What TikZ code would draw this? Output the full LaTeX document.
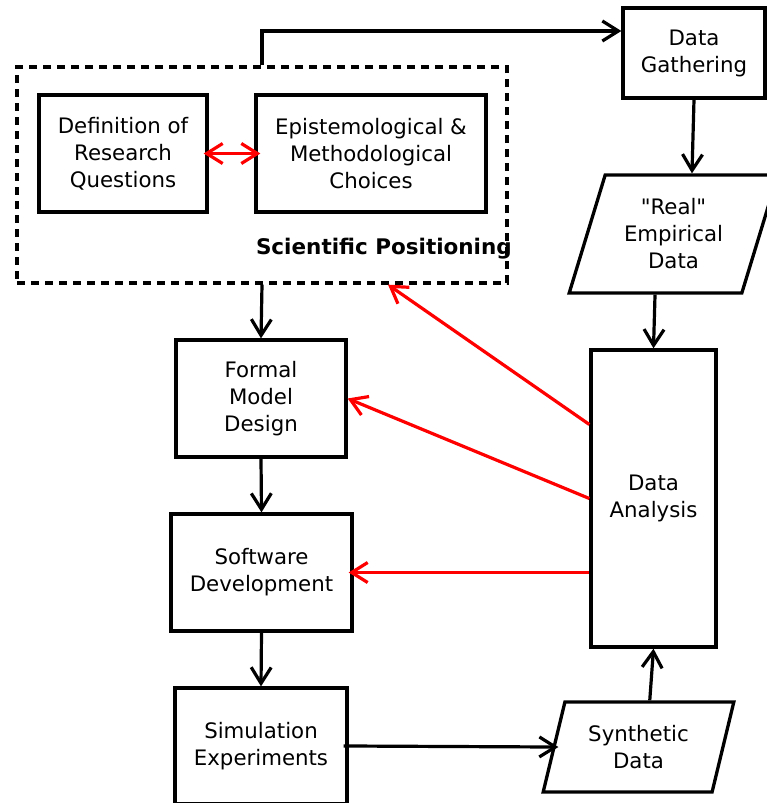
\documentclass[tikz,border=0pt]{standalone}
\usepackage{fontspec}
\setmainfont{DejaVu Sans}
\usetikzlibrary{arrows.meta, calc, shapes.geometric}
\tikzset{
  box/.style={draw, line width=3.3pt, align=center, inner sep=2pt, font=\fontsize{21.3}{27}\selectfont},
  dat/.style={box, trapezium, trapezium left angle=70, trapezium right angle=110, trapezium stretches=true},
  grp/.style={draw, line width=3.3pt, dash pattern=on 8pt off 6pt, minimum width=490pt, minimum height=216pt},
  flw/.style={-{Straight Barb[length=16pt, width=20pt, line width=3.2pt]}, line width=3.2pt},
  fbk/.style={flw, red},
  fbb/.style={{Straight Barb[length=16pt, width=20pt, line width=3.2pt]}-{Straight Barb[length=16pt, width=20pt, line width=3.2pt]}, line width=3.2pt, red},
  glab/.style={font=\fontsize{21.5}{27}\selectfont\bfseries, inner sep=0pt}
}

\begin{document}
\begin{tikzpicture}[x=1pt, y=-1pt]
		\useasboundingbox (0,0) rectangle (767,803);
		\node[grp] (pos) at (262,175) {};
		\node[glab, anchor=east] (posl) at (512,249) {Scientific Positioning};
		\node[box, minimum width=168pt, minimum height=117pt] (def) at (123,153.5) {Definition of\\Research\\Questions};
		\node[box, minimum width=230pt, minimum height=117pt] (epi) at (371,153.5) {Epistemological \&\\Methodological\\Choices};
		\node[box, minimum width=142pt, minimum height=90pt] (dg) at (694,53) {Data\\Gathering};
		\node[dat, minimum width=209pt, minimum height=118pt] (real) at (673.5,234) {\textquotedbl Real\textquotedbl\\Empirical\\Data};
		\node[box, minimum width=125pt, minimum height=297pt] (ana) at (653.5,498.5) {Data\\Analysis};
		\node[box, minimum width=170pt, minimum height=117pt] (fmd) at (261,398.5) {Formal\\Model\\Design};
		\node[box, minimum width=181pt, minimum height=117pt] (sd) at (261.5,572.5) {Software\\Development};
		\node[box, minimum width=172pt, minimum height=116pt] (sim) at (261,746) {Simulation\\Experiments};
		\node[dat, trapezium left angle=72, trapezium right angle=108, minimum width=191pt, minimum height=90pt] (syn) at (638.5,747) {Synthetic\\Data};
		% main flow
		\draw[flw] (pos.north) |- ($(dg.west)+(0,-22)$);
		\draw[flw] (dg.south) -- (real.top side);
		\draw[flw] (real.bottom side) -- (ana.north);
		\draw[flw] (pos.south) -- (fmd.north);
		\draw[flw] (fmd.south) -- (sd.north);
		\draw[flw] (sd.south) -- (sim.north);
		\draw[flw, shorten <=-5pt, shorten >=-6pt] (sim.east) -- (syn.left side);
		\draw[flw] (syn.top side) -- (ana.south);
		% feedback
		\draw[fbb, shorten <=-5pt, shorten >=-6pt] (def.east) -- (epi.west);
		\draw[fbk] ($(ana.west)+(0,-74)$) -- ($(pos.south)+(126,0)$);
		\draw[fbk] (ana.west) -- (fmd.east);
		\draw[fbk, shorten >=-5pt] ($(ana.west)+(0,74)$) -- (sd.east);
	\end{tikzpicture}
\end{document}
